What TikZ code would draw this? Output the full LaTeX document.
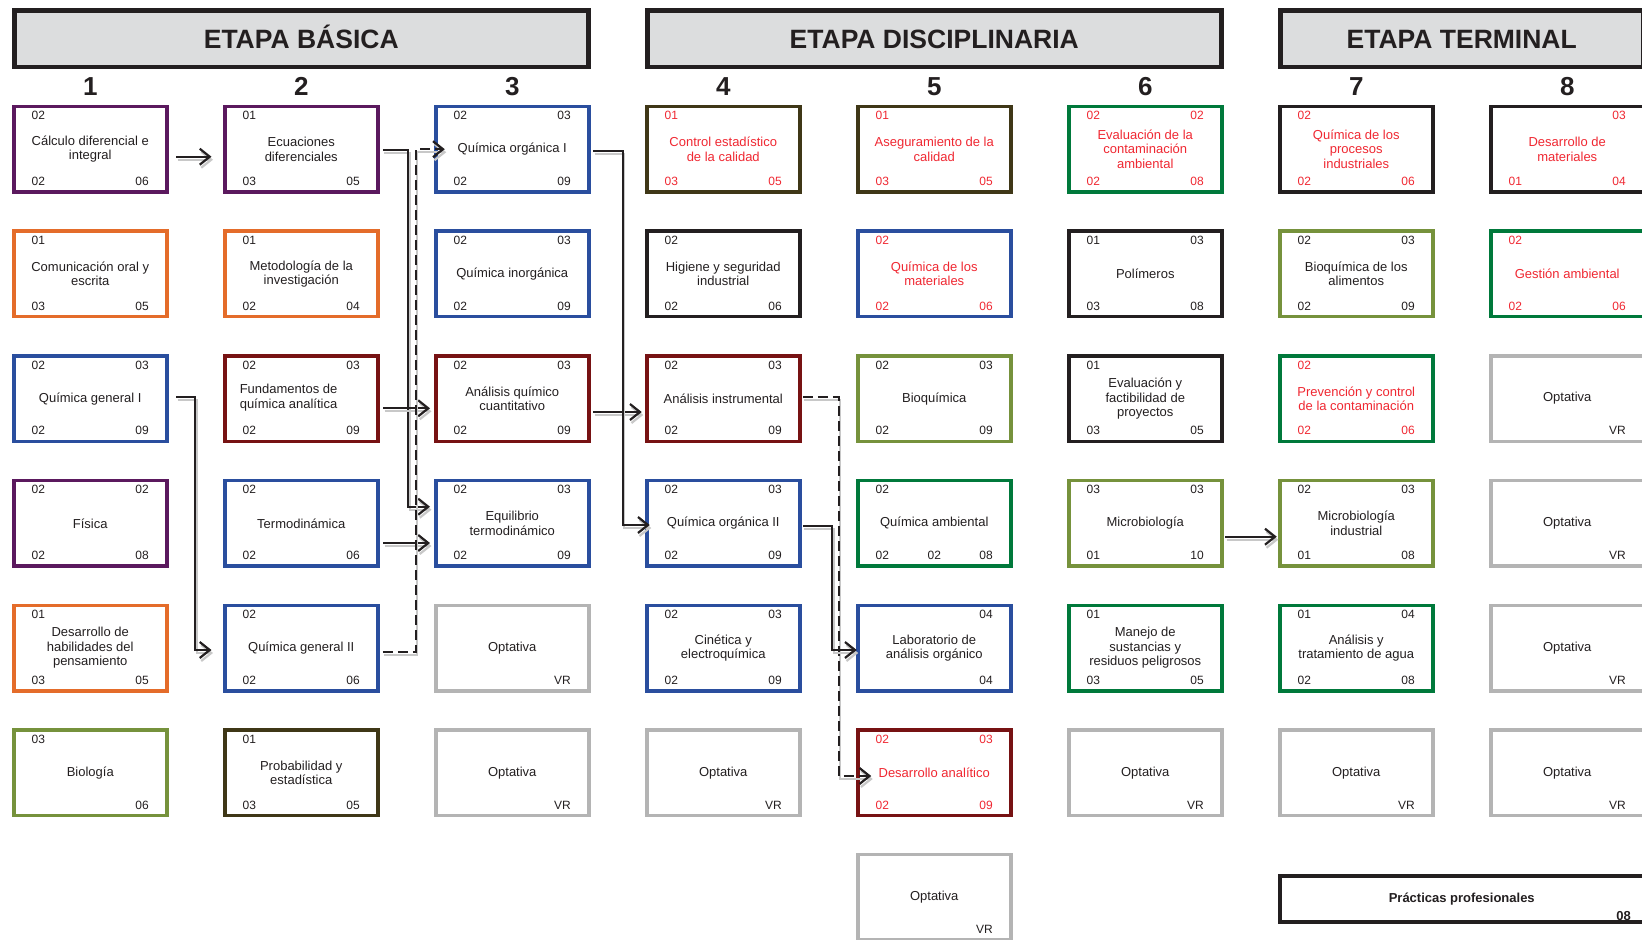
\documentclass[tikz,border=0pt]{standalone}
\usepackage{fontspec}
\setmainfont{Liberation Sans}
\usetikzlibrary{calc,arrows.meta}
\definecolor{cpurple}{RGB}{91,25,94}
\definecolor{corange}{RGB}{228,108,42}
\definecolor{cblue}{RGB}{42,78,158}
\definecolor{cdred}{RGB}{119,18,19}
\definecolor{cbrown}{RGB}{63,55,23}
\definecolor{cblack}{RGB}{35,31,32}
\definecolor{cdgreen}{RGB}{0,121,59}
\definecolor{colive}{RGB}{118,146,60}
\definecolor{cgray}{RGB}{180,180,180}
\definecolor{cred}{RGB}{240,40,50}
\definecolor{ctext}{RGB}{35,31,32}
\definecolor{chead}{RGB}{220,221,222}
\definecolor{cshadow}{RGB}{200,200,200}
\tikzset{
  cbox/.style={rectangle, line width=3.5pt, minimum width=153pt, minimum height=85.5pt,
    inner sep=0pt, outer sep=0pt, align=center, fill=white,
    font=\fontsize{13pt}{14.5pt}\selectfont, text=ctext},
  ttl/.style={inner sep=0pt, outer sep=0pt, align=center,
    font=\fontsize{13pt}{14.5pt}\selectfont, text=ctext},
  lbl/.style={inner sep=0pt, outer sep=0pt, font=\fontsize{12pt}{14pt}\selectfont, text=ctext},
  pu/.style={draw=cpurple}, orn/.style={draw=corange}, blu/.style={draw=cblue},
  drd/.style={draw=cdred}, brn/.style={draw=cbrown}, blk/.style={draw=cblack},
  dgr/.style={draw=cdgreen}, olv/.style={draw=colive}, gry/.style={draw=cgray},
  rt/.style={text=cred},
  hdr/.style={draw=cblack, fill=chead, line width=4.5pt, minimum height=56.5pt,
    inner sep=0pt, outer sep=0pt, text height=19pt, text depth=0pt,
    font=\bfseries\fontsize{26.5pt}{30pt}\selectfont, text=cblack},
  colnum/.style={inner sep=0pt, font=\bfseries\fontsize{26pt}{30pt}\selectfont, text=cblack},
  prac/.style={draw=cblack, line width=4pt, minimum width=363.5pt, minimum height=46pt,
    inner sep=0pt, outer sep=0pt, font=\bfseries\fontsize{13pt}{15pt}\selectfont, text=cblack},
  arr/.style={draw=cblack, line width=2pt,
    -{Straight Barb[length=10pt,width=16pt,line width=2.2pt]},
    preaction={draw=cshadow, line width=2pt, transform canvas={shift={(1.5,3)}}}},
  dsh/.style={dash pattern=on 10pt off 5pt}
}
\newcommand\course[9]{%
  \pgfmathsetmacro\cx{90.25+211*(#2-1)}%
  \pgfmathsetmacro\cy{149.2+124.7*(#3-1)}%
  \node[cbox,#4] (#1) at (\cx,\cy) {#5};
  \node[lbl,#4,draw=none,anchor=west] at ($(#1.center)+(-58.55,-33.5)$) {#6};
  \node[lbl,#4,draw=none,anchor=east] at ($(#1.center)+(58.55,-33.5)$) {#7};
  \node[lbl,#4,draw=none,anchor=west] at ($(#1.center)+(-58.55,32.2)$) {#8};
  \node[lbl,#4,draw=none,anchor=east] at ($(#1.center)+(58.55,32.2)$) {#9};
}
\begin{document}
\begin{tikzpicture}[x=1pt,y=-1pt]
\useasboundingbox[fill=white] (0,0) rectangle (1642,940);
% headers
\node[hdr, minimum width=574pt] (hb) at (301.25,38.8) {ETAPA BÁSICA};
\node[hdr, minimum width=574pt] (hd) at (934.25,38.8) {ETAPA DISCIPLINARIA};
\node[hdr, minimum width=363pt] (ht) at (1461.75,38.8) {ETAPA TERMINAL};
\foreach \i in {1,...,8} {
  \node[colnum] (n\i) at ({90.25+211*(\i-1)},86.7) {\i};
}
% column 1
\course{c11}{1}{1}{pu}{Cálculo diferencial e\\integral}{02}{}{02}{06}
\course{c12}{1}{2}{orn}{Comunicación oral y\\escrita}{01}{}{03}{05}
\course{c13}{1}{3}{blu}{Química general I}{02}{03}{02}{09}
\course{c14}{1}{4}{pu}{Física}{02}{02}{02}{08}
\course{c15}{1}{5}{orn}{Desarrollo de\\habilidades del\\pensamiento}{01}{}{03}{05}
\course{c16}{1}{6}{olv}{Biología}{03}{}{}{06}
% column 2
\course{c21}{2}{1}{pu}{Ecuaciones\\diferenciales}{01}{}{03}{05}
\course{c22}{2}{2}{orn}{Metodología de la\\investigación}{01}{}{02}{04}
\course{c23}{2}{3}{drd}{}{02}{03}{02}{09}
\node[ttl] (t23) at ($(c23.center)+(-12.7,-1)$) {Fundamentos de\\química analítica};
\course{c24}{2}{4}{blu}{Termodinámica}{02}{}{02}{06}
\course{c25}{2}{5}{blu}{Química general II}{02}{}{02}{06}
\course{c26}{2}{6}{brn}{Probabilidad y\\estadística}{01}{}{03}{05}
% column 3
\course{c31}{3}{1}{blu}{Química orgánica I}{02}{03}{02}{09}
\course{c32}{3}{2}{blu}{Química inorgánica}{02}{03}{02}{09}
\course{c33}{3}{3}{drd}{Análisis químico\\cuantitativo}{02}{03}{02}{09}
\course{c34}{3}{4}{blu}{Equilibrio\\termodinámico}{02}{03}{02}{09}
\course{c35}{3}{5}{gry}{Optativa}{}{}{}{VR}
\course{c36}{3}{6}{gry}{Optativa}{}{}{}{VR}
% column 4
\course{c41}{4}{1}{brn,rt}{Control estadístico\\de la calidad}{01}{}{03}{05}
\course{c42}{4}{2}{blk}{Higiene y seguridad\\industrial}{02}{}{02}{06}
\course{c43}{4}{3}{drd}{Análisis instrumental}{02}{03}{02}{09}
\course{c44}{4}{4}{blu}{Química orgánica II}{02}{03}{02}{09}
\course{c45}{4}{5}{blu}{Cinética y\\electroquímica}{02}{03}{02}{09}
\course{c46}{4}{6}{gry}{Optativa}{}{}{}{VR}
% column 5
\course{c51}{5}{1}{brn,rt}{Aseguramiento de la\\calidad}{01}{}{03}{05}
\course{c52}{5}{2}{blu,rt}{Química de los\\materiales}{02}{}{02}{06}
\course{c53}{5}{3}{olv}{Bioquímica}{02}{03}{02}{09}
\course{c54}{5}{4}{dgr}{Química ambiental}{02}{}{02}{08}
\node[lbl] (m54) at ($(c54.center)+(0,32.2)$) {02};
\course{c55}{5}{5}{blu}{Laboratorio de\\análisis orgánico}{}{04}{}{04}
\course{c56}{5}{6}{drd,rt}{Desarrollo analítico}{02}{03}{02}{09}
\course{c57}{5}{7}{gry}{Optativa}{}{}{}{VR}
% column 6
\course{c61}{6}{1}{dgr,rt}{Evaluación de la\\contaminación\\ambiental}{02}{02}{02}{08}
\course{c62}{6}{2}{blk}{Polímeros}{01}{03}{03}{08}
\course{c63}{6}{3}{blk}{Evaluación y\\factibilidad de\\proyectos}{01}{}{03}{05}
\course{c64}{6}{4}{olv}{Microbiología}{03}{03}{01}{10}
\course{c65}{6}{5}{dgr}{Manejo de\\sustancias y\\residuos peligrosos}{01}{}{03}{05}
\course{c66}{6}{6}{gry}{Optativa}{}{}{}{VR}
% column 7
\course{c71}{7}{1}{blk,rt}{Química de los\\procesos\\industriales}{02}{}{02}{06}
\course{c72}{7}{2}{olv}{Bioquímica de los\\alimentos}{02}{03}{02}{09}
\course{c73}{7}{3}{dgr,rt}{Prevención y control\\de la contaminación}{02}{}{02}{06}
\course{c74}{7}{4}{olv}{Microbiología\\industrial}{02}{03}{01}{08}
\course{c75}{7}{5}{dgr}{Análisis y\\tratamiento de agua}{01}{04}{02}{08}
\course{c76}{7}{6}{gry}{Optativa}{}{}{}{VR}
% column 8
\course{c81}{8}{1}{blk,rt}{Desarrollo de\\materiales}{}{03}{01}{04}
\course{c82}{8}{2}{dgr,rt}{Gestión ambiental}{02}{}{02}{06}
\course{c83}{8}{3}{gry}{Optativa}{}{}{}{VR}
\course{c84}{8}{4}{gry}{Optativa}{}{}{}{VR}
\course{c85}{8}{5}{gry}{Optativa}{}{}{}{VR}
\course{c86}{8}{6}{gry}{Optativa}{}{}{}{VR}
% practicas
\node[prac] (pp) at (1461.75,899) {Prácticas profesionales};
\node[anchor=east, inner sep=0pt, font=\bfseries\fontsize{13pt}{15pt}\selectfont, text=cblack] (pp08) at ($(pp.east)+(-12.5,17)$) {08};
% connectors
\draw[arr] ($(c11.east)+(9.25,7.5)$) -- ($(c21.west)+(-13.25,7.5)$);
\draw[arr] ($(c21.east)+(5,0.5)$) -- ++(25.5,0) |- ($(c34.west)+(-5.75,-16.6)$);
\draw[arr] ($(c23.east)+(5.25,9.7)$) -- ($(c33.west)+(-5.75,9.7)$);
\draw[arr] ($(c24.east)+(5.25,19.7)$) -- ($(c34.west)+(-5.75,19.7)$);
\draw[arr,dsh] ($(c25.east)+(5,3.5)$) -- ++(33,0) |- ($(c31.west)+(9,0)$);
\draw[arr] ($(c13.east)+(9.25,-1.6)$) -- ++(19,0) |- ($(c25.west)+(-13.25,2)$);
\draw[arr] ($(c33.east)+(4.25,13.4)$) -- ($(c43.west)+(-5,13.4)$);
\draw[arr] ($(c31.east)+(4.25,2)$) -- ++(29.5,0) |- ($(c44.west)+(3,1.7)$);
\draw[arr,dsh] ($(c43.east)+(3,-1.6)$) -- ++(36,0) |- ($(c56.west)+(13.5,3.3)$);
\draw[arr] ($(c44.east)+(3,2.4)$) -- ++(29.5,0) |- ($(c55.west)+(-1,2)$);
\draw[arr] ($(c64.east)+(3.5,13.4)$) -- ($(c74.west)+(-3,13.4)$);
\end{tikzpicture}
\end{document}
